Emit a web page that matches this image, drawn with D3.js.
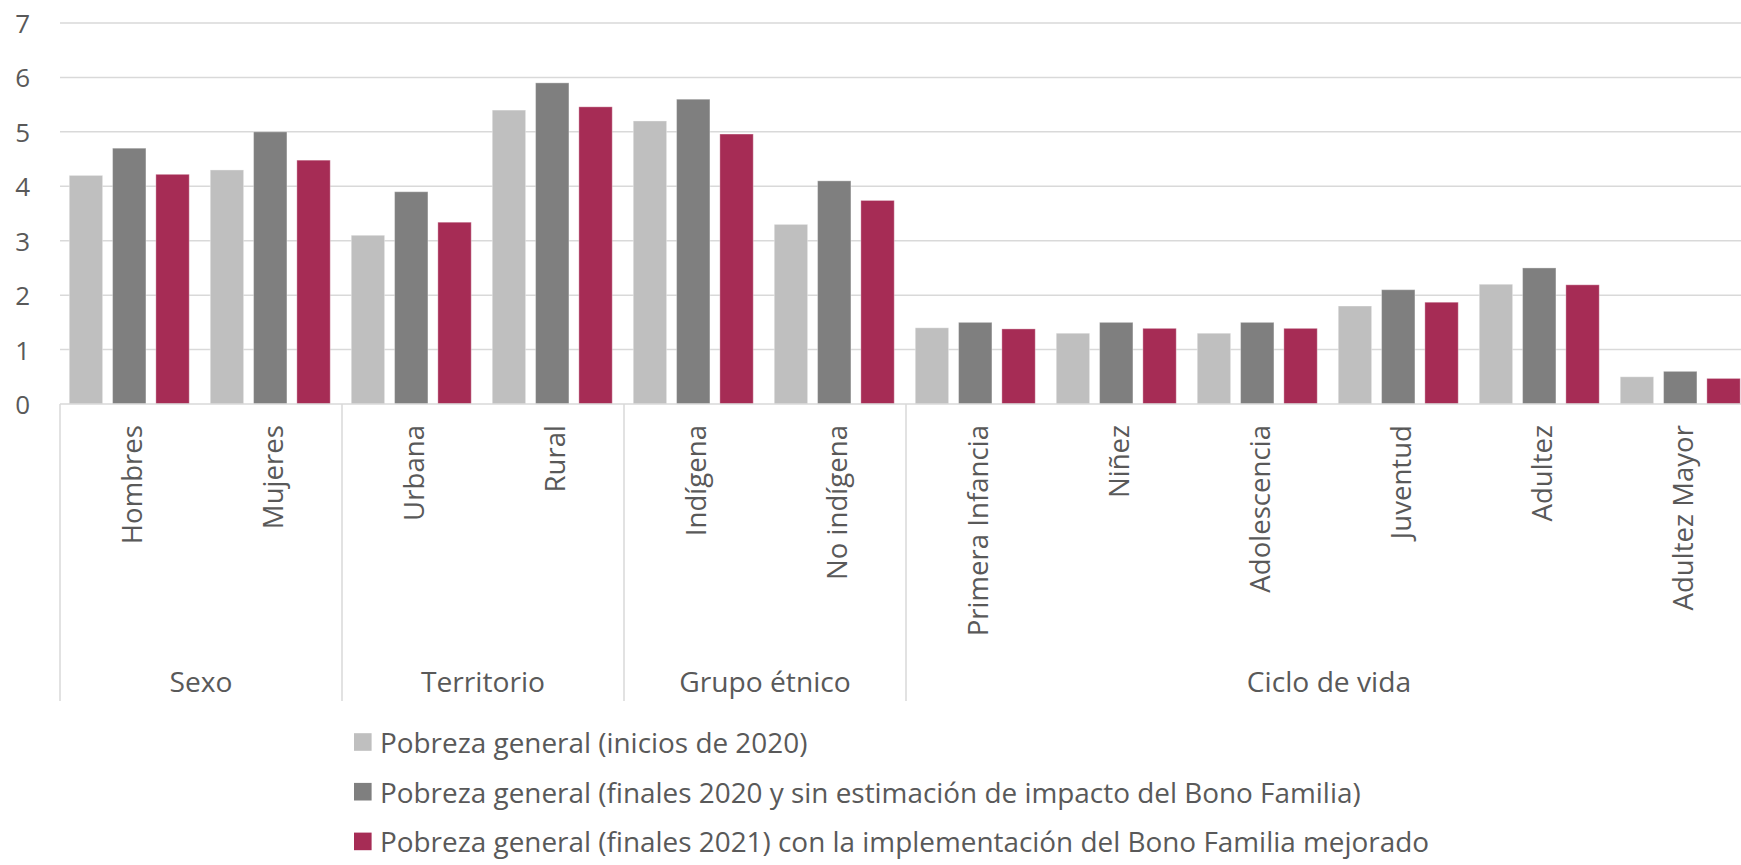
<!DOCTYPE html>
<html>
<head>
<meta charset="utf-8">
<script src="https://cdn.jsdelivr.net/npm/d3@7"></script>
<style>
  html, body { margin: 0; padding: 0; background: #fff; }
  svg { display: block; font-family: "Open Sans", "Noto Sans", sans-serif; }
</style>
</head>
<body>
<svg id="chart" width="1741" height="865"></svg>
<script>
const categories = ["Hombres", "Mujeres", "Urbana", "Rural", "Indígena", "No indígena",
  "Primera Infancia", "Niñez", "Adolescencia", "Juventud", "Adultez", "Adultez Mayor"];
const groups = ["Sexo", "Territorio", "Grupo étnico", "Ciclo de vida"];
const groupSizes = [2, 2, 2, 6];
const seriesNames = [
  "Pobreza general (inicios de 2020)",
  "Pobreza general (finales 2020 y sin estimación de impacto del Bono Familia)",
  "Pobreza general (finales 2021) con la implementación del Bono Familia mejorado"
];
const inicios2020 = [4.2, 4.3, 3.1, 5.4, 5.2, 3.3, 1.4, 1.3, 1.3, 1.8, 2.2, 0.5];
const finales2020 = [4.7, 5.0, 3.9, 5.9, 5.6, 4.1, 1.5, 1.5, 1.5, 2.1, 2.5, 0.6];
const finales2021 = [4.22, 4.48, 3.34, 5.46, 4.96, 3.74, 1.38, 1.39, 1.39, 1.87, 2.19, 0.47];
const yTicks = [0, 1, 2, 3, 4, 5, 6, 7];
const colors = ["#BFBFBF", "#7F7F7F", "#A62C55"];

const seriesValues = [inicios2020, finales2020, finales2021];
const svg = d3.select("#chart");
const textColor = "#595959";
const gridColor = "#D9D9D9";

const plotLeft = 60, plotRight = 1752, plotTop = 23, plotBottom = 404;

const x0 = d3.scaleBand().domain(categories).range([plotLeft, plotRight]).padding(0);
const x1 = d3.scaleBand().domain(d3.range(3)).range([4.3, 134.2]).paddingInner(0.229).paddingOuter(0.1145);
const y = d3.scaleLinear().domain([0, 7]).range([plotBottom, plotTop]);

// gridlines
svg.append("g").selectAll("line").data(yTicks.filter(d => d > 0)).join("line")
  .attr("x1", plotLeft).attr("x2", 1741)
  .attr("y1", d => y(d)).attr("y2", d => y(d))
  .attr("stroke", gridColor).attr("stroke-width", 1.5);

// y tick labels
svg.append("g").selectAll("text").data(yTicks).join("text")
  .attr("x", 30).attr("y", d => y(d))
  .attr("text-anchor", "end").attr("dominant-baseline", "central")
  .attr("fill", textColor).attr("font-size", 26)
  .text(d => d);

// bars
const barG = svg.append("g");
categories.forEach((c, i) => {
  seriesValues.forEach((vals, s) => {
    barG.append("rect")
      .attr("x", x0(c) + x1(s))
      .attr("width", x1.bandwidth())
      .attr("y", y(vals[i]))
      .attr("height", y(0) - y(vals[i]))
      .attr("fill", colors[s])
      .attr("stroke", "#ffffff").attr("stroke-opacity", 0.35).attr("stroke-width", 1);
  });
});

// axis line
svg.append("line").attr("x1", plotLeft).attr("x2", 1741)
  .attr("y1", plotBottom).attr("y2", plotBottom)
  .attr("stroke", gridColor).attr("stroke-width", 1.5);

// group separators
let idx = 0;
const bounds = [0];
groupSizes.forEach(n => { idx += n; bounds.push(idx); });
svg.append("g").selectAll("line").data(bounds).join("line")
  .attr("x1", b => plotLeft + b * x0.step()).attr("x2", b => plotLeft + b * x0.step())
  .attr("y1", plotBottom).attr("y2", 701)
  .attr("stroke", gridColor).attr("stroke-width", 1.5);

// category labels (rotated)
svg.append("g").selectAll("text").data(categories).join("text")
  .attr("transform", d => `translate(${x0(d) + x0.bandwidth() / 2},425) rotate(-90)`)
  .attr("text-anchor", "end").attr("dominant-baseline", "central")
  .attr("fill", textColor).attr("font-size", 27.6)
  .text(d => d);

// group labels
svg.append("g").selectAll("text").data(groups).join("text")
  .attr("x", (g, i) => plotLeft + (bounds[i] + bounds[i + 1]) / 2 * x0.step())
  .attr("y", 692)
  .attr("text-anchor", "middle")
  .attr("fill", textColor).attr("font-size", 28.2)
  .text(d => d);

// legend
const legend = svg.append("g");
seriesNames.forEach((name, s) => {
  const cy = 742 + s * 49.7;
  legend.append("rect").attr("x", 354).attr("y", cy - 8.8).attr("width", 17.6).attr("height", 17.6)
    .attr("fill", colors[s]);
  legend.append("text").attr("x", 380).attr("y", cy)
    .attr("dominant-baseline", "central")
    .attr("fill", textColor).attr("font-size", 27.9)
    .text(name);
});
</script>
</body>
</html>
